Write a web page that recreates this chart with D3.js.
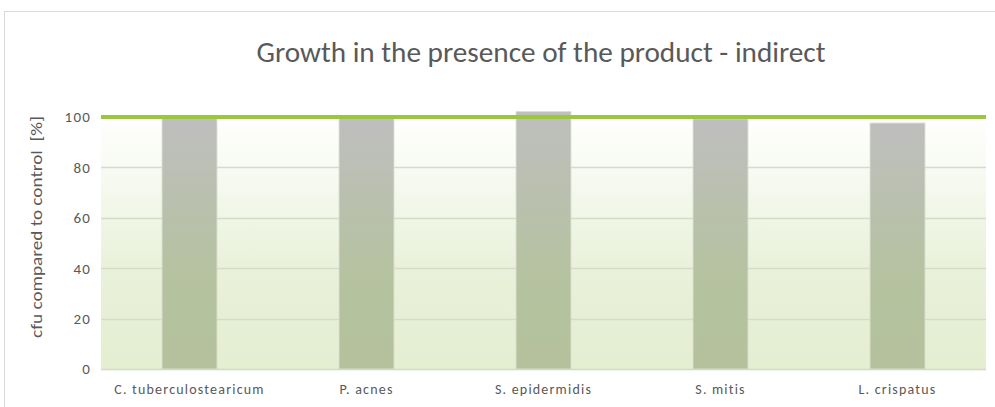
<!DOCTYPE html>
<html>
<head>
<meta charset="utf-8">
<script src="https://d3js.org/d3.v7.min.js"></script>
<style>
  body { margin: 0; background: #fff; }
  text { font-family: Carlito, Calibri, Lato, sans-serif; fill: #595959; }
</style>
</head>
<body>
<script>
// data
var categories = ["C. tuberculostearicum", "P. acnes", "S. epidermidis", "S. mitis", "L. crispatus"];
var values = [99.6, 99.4, 102.1, 99.2, 97.6];
var yTicks = [0, 20, 40, 60, 80, 100];
var controlLevel = 100;
var title = "Growth in the presence of the product - indirect";
var yLabel = "cfu compared to control\u00a0\u00a0[%]";

var W = 995, H = 407;
var margin = {top: 117, right: 9, bottom: 38, left: 101};
var width = W - margin.left - margin.right,
    height = H - margin.top - margin.bottom;

var svg = d3.select("body").append("svg")
  .attr("width", W).attr("height", H);

// gradients
var defs = svg.append("defs");
var bg = defs.append("linearGradient").attr("id", "bgGrad")
  .attr("x1", 0).attr("y1", 0).attr("x2", 0).attr("y2", 1);
bg.append("stop").attr("offset", "0%").attr("stop-color", "#ffffff");
bg.append("stop").attr("offset", "60%").attr("stop-color", "#e9f1da");
bg.append("stop").attr("offset", "100%").attr("stop-color", "#e4eed1");

var barG = defs.append("linearGradient").attr("id", "barGrad")
  .attr("x1", 0).attr("y1", 0).attr("x2", 0).attr("y2", 1);
barG.append("stop").attr("offset", "0%").attr("stop-color", "#bebebe");
barG.append("stop").attr("offset", "65%").attr("stop-color", "#b5c29f");
barG.append("stop").attr("offset", "100%").attr("stop-color", "#b4c19c");

// chart border
svg.append("rect")
  .attr("x", 4.5).attr("y", 11.5)
  .attr("width", W + 10).attr("height", H + 10)
  .attr("fill", "none").attr("stroke", "#d9d9d9");

svg.append("text")
  .attr("x", 541).attr("y", 62)
  .attr("text-anchor", "middle")
  .attr("font-size", 28)
  .attr("font-weight", 300)
  .attr("fill", "#636363")
  .attr("textLength", 569)
  .attr("lengthAdjust", "spacingAndGlyphs")
  .text(title);

var g = svg.append("g")
  .attr("transform", "translate(" + margin.left + "," + margin.top + ")");

var x = d3.scaleBand().domain(categories).range([0, width]).paddingInner(0.69).paddingOuter(0.345);
var y = d3.scaleLinear().domain([0, 100]).range([height, 0]);

g.append("rect")
  .attr("x", 0).attr("y", 0)
  .attr("width", width).attr("height", height)
  .attr("fill", "url(#bgGrad)");

// grid
g.selectAll(".grid").data(yTicks.filter(function(d) { return d > 0 && d < 100; }))
  .enter().append("line")
  .attr("x1", 0).attr("x2", width)
  .attr("y1", function(d) { return Math.round(y(d)) + 0.5; })
  .attr("y2", function(d) { return Math.round(y(d)) + 0.5; })
  .attr("stroke", "#d5dac9").attr("stroke-width", 1.5);

// bars
g.selectAll(".bar").data(values)
  .enter().append("rect")
  .attr("x", function(d, i) { return x(categories[i]); })
  .attr("y", function(d) { return y(d); })
  .attr("width", x.bandwidth())
  .attr("height", function(d) { return height - y(d); })
  .attr("fill", "url(#barGrad)")
  .attr("stroke", "#d6dccb").attr("stroke-width", 0.8);

// baseline
g.append("line")
  .attr("x1", 0).attr("x2", width)
  .attr("y1", height + 0.5).attr("y2", height + 0.5)
  .attr("stroke", "#cfdcbd").attr("stroke-width", 1.5);

// control line at 100
g.append("line")
  .attr("x1", 0).attr("x2", width)
  .attr("y1", y(controlLevel)).attr("y2", y(controlLevel))
  .attr("stroke", "#9bc83a").attr("stroke-width", 4);

// y axis labels
var yAxis = d3.axisLeft(y).tickValues(yTicks).tickSize(0).tickPadding(10);
g.append("g").call(yAxis)
  .call(function(s) { s.select(".domain").remove(); })
  .selectAll("text")
  .attr("font-size", 15)
  .attr("letter-spacing", 1.2)
  .attr("fill", "#595959");

// x axis labels
var xAxis = d3.axisBottom(x).tickSize(0).tickPadding(15);
g.append("g").attr("transform", "translate(0," + height + ")").call(xAxis)
  .call(function(s) { s.select(".domain").remove(); })
  .selectAll("text")
  .attr("font-size", 14)
  .attr("letter-spacing", 1.2)
  .attr("fill", "#595959");

svg.selectAll(".tick").attr("font-family", null).attr("font-size", null);

svg.append("text")
  .attr("transform", "translate(42," + (margin.top + height / 2 - 16) + ") rotate(-90)")
  .attr("text-anchor", "middle")
  .attr("font-size", 16.5)
  .attr("textLength", 222)
  .attr("lengthAdjust", "spacingAndGlyphs")
  .text(yLabel);
</script>
</body>
</html>
